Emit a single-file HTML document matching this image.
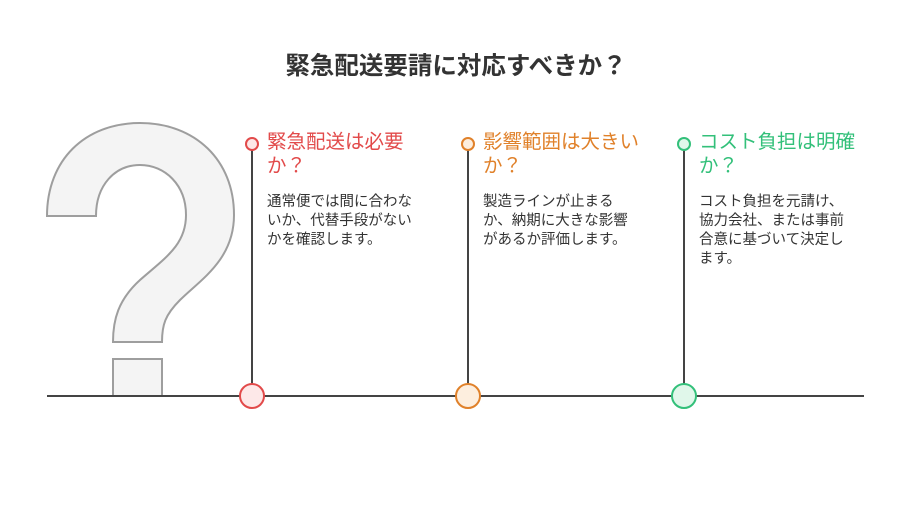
<!DOCTYPE html>
<html><head><meta charset="utf-8"><style>
body{margin:0;width:912px;height:516px;background:#fff;overflow:hidden;font-family:"Liberation Sans","Noto Sans CJK JP",sans-serif;position:relative}
.t{position:absolute;left:0;width:912px;top:47px;text-align:center;font-size:24.5px;font-weight:bold;color:#333}
.h{position:absolute;font-size:19.5px;line-height:24px;white-space:nowrap}
.b{position:absolute;font-size:14.5px;line-height:19px;color:#333;white-space:nowrap}
</style></head><body>
<svg width="912" height="516" style="position:absolute;left:0;top:0">
<path d="M47,216 C47,160 85,123 140,123 C195,123 234,160 234,215 C234,260 200,280 180,300 C165,315 162,325 162,342 L113,342 C113,320 118,300 140,280 C165,258 186,245 186,215 C186,185 165,165 140,165 C115,165 96,185 96,216 Z" fill="#f4f4f4" stroke="#9e9e9e" stroke-width="2"/>
<path d="M113,396 L113,359 L162,359 L162,396" fill="#f4f4f4" stroke="#9e9e9e" stroke-width="2"/>
<line x1="47" y1="396" x2="864" y2="396" stroke="#444" stroke-width="2"/>
<g stroke="#444" stroke-width="2">
<line x1="252" y1="150" x2="252" y2="396"/><line x1="468" y1="150" x2="468" y2="396"/><line x1="684" y1="150" x2="684" y2="396"/></g>
<circle cx="252" cy="144" r="6" fill="#fde8e8" stroke="#e24a4a" stroke-width="2"/>
<circle cx="468" cy="144" r="6" fill="#fdeede" stroke="#e0812a" stroke-width="2"/>
<circle cx="684" cy="144" r="6" fill="#e0f7ea" stroke="#33c07a" stroke-width="2"/>
<circle cx="252" cy="396" r="12" fill="#fde8e8" stroke="#e24a4a" stroke-width="2"/>
<circle cx="468" cy="396" r="12" fill="#fdeede" stroke="#e0812a" stroke-width="2"/>
<circle cx="684" cy="396" r="12" fill="#e0f7ea" stroke="#33c07a" stroke-width="2"/>
</svg>
<div class="t">緊急配送要請に対応すべきか？</div>
<div class="h" style="left:267px;top:130px;color:#e24a4a">緊急配送は必要<br>か？</div>
<div class="h" style="left:483px;top:130px;color:#e0812a">影響範囲は大きい<br>か？</div>
<div class="h" style="left:699px;top:130px;color:#33c07a">コスト負担は明確<br>か？</div>
<div class="b" style="left:267px;top:193px">通常便では間に合わな<br>いか、代替手段がない<br>かを確認します。</div>
<div class="b" style="left:483px;top:193px">製造ラインが止まる<br>か、納期に大きな影響<br>があるか評価します。</div>
<div class="b" style="left:699px;top:193px">コスト負担を元請け、<br>協力会社、または事前<br>合意に基づいて決定し<br>ます。</div>
</body></html>
